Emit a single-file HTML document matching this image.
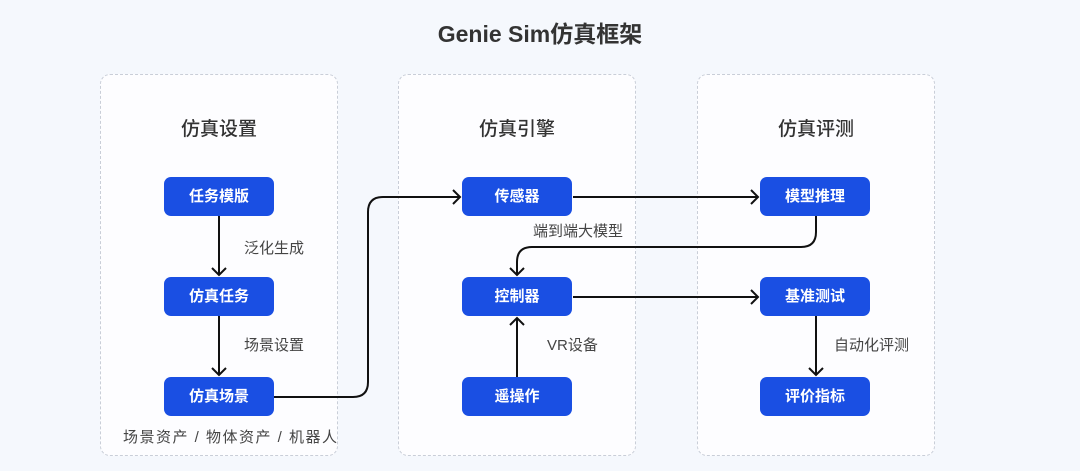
<!DOCTYPE html>
<html><head><meta charset="utf-8"><style>
body{margin:0;width:1080px;height:471px;background:#f5f8fd;position:relative;overflow:hidden;font-family:"Liberation Sans","Noto Sans CJK SC",sans-serif;}
.panel{position:absolute;top:74px;width:238px;height:382px;border:1.5px dashed #c9ced8;border-radius:10px;background:#fdfdff;box-sizing:border-box;}
.pt{position:absolute;top:114px;width:238px;text-align:center;font-size:19px;color:#333;font-weight:500;}
.box{position:absolute;width:110px;height:39px;background:#1a4fe3;border-radius:7px;color:#fff;font-size:15px;font-weight:bold;text-align:center;line-height:39px;}
.lb{position:absolute;font-size:15px;color:#444;white-space:nowrap;}
svg{position:absolute;left:0;top:0;}
</style></head><body>
<div style="position:absolute;top:15px;width:1080px;text-align:center;font-size:23px;font-weight:bold;color:#333;">Genie Sim仿真框架</div>
<div class="panel" style="left:100px"></div>
<div class="panel" style="left:398px"></div>
<div class="panel" style="left:697px"></div>
<div class="pt" style="left:100px">仿真设置</div>
<div class="pt" style="left:398px">仿真引擎</div>
<div class="pt" style="left:697px">仿真评测</div>
<svg width="1080" height="471" fill="none" stroke="#111" stroke-width="2">
<path d="M219 216V275M212 268l7 7 7-7"/>
<path d="M219 316V375M212 368l7 7 7-7"/>
<path d="M274 397H353Q368 397 368 382V212Q368 197 383 197H460M453 190l7 7-7 7"/>
<path d="M573 197H758M751 190l7 7-7 7"/>
<path d="M816 216V232Q816 247 801 247H532Q517 247 517 262V275M510 268l7 7 7-7"/>
<path d="M573 297H758M751 290l7 7-7 7"/>
<path d="M517 377V318M510 325l7-7 7 7"/>
<path d="M816 316V375M809 368l7 7 7-7"/>
</svg>
<div class="box" style="left:164px;top:177px">任务模版</div>
<div class="box" style="left:164px;top:277px">仿真任务</div>
<div class="box" style="left:164px;top:377px">仿真场景</div>
<div class="box" style="left:462px;top:177px">传感器</div>
<div class="box" style="left:462px;top:277px">控制器</div>
<div class="box" style="left:462px;top:377px">遥操作</div>
<div class="box" style="left:760px;top:177px">模型推理</div>
<div class="box" style="left:760px;top:277px">基准测试</div>
<div class="box" style="left:760px;top:377px">评价指标</div>
<div class="lb" style="left:244px;top:237px">泛化生成</div>
<div class="lb" style="left:244px;top:334px">场景设置</div>
<div class="lb" style="left:123px;top:426px;letter-spacing:1.5px">场景资产 / 物体资产 / 机器人</div>
<div class="lb" style="left:533px;top:220px">端到端大模型</div>
<div class="lb" style="left:547px;top:334px">VR设备</div>
<div class="lb" style="left:834px;top:334px">自动化评测</div>
</body></html>
